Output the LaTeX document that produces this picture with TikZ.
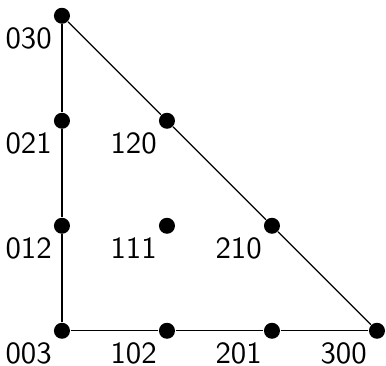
\documentclass[tikz,border=0pt]{standalone}
\usepackage{tikz}
\usetikzlibrary{positioning,calc}

\begin{document}
\begin{tikzpicture}[
  x=1.2cm,y=1.2cm,
  dot/.style={circle,fill=black,inner sep=0pt,minimum size=0.183cm},
  lab/.style={anchor=north east,inner sep=0pt,font=\sffamily},
  edge/.style={draw=black,line width=0.4pt}
]
\useasboundingbox (-0.59,-0.333) rectangle (3.086,3.15);
% control points
\node[dot] (p003) at (0,0) {};
\node[dot] (p102) at (1,0) {};
\node[dot] (p201) at (2,0) {};
\node[dot] (p300) at (3,0) {};
\node[dot] (p012) at (0,1) {};
\node[dot] (p111) at (1,1) {};
\node[dot] (p210) at (2,1) {};
\node[dot] (p021) at (0,2) {};
\node[dot] (p120) at (1,2) {};
\node[dot] (p030) at (0,3) {};
% labels
\node[lab] (l003) at ([shift={(-0.11cm,-0.13cm)}]p003) {003};
\node[lab] (l102) at ([shift={(-0.11cm,-0.13cm)}]p102) {102};
\node[lab] (l201) at ([shift={(-0.11cm,-0.13cm)}]p201) {201};
\node[lab] (l300) at ([shift={(-0.11cm,-0.13cm)}]p300) {300};
\node[lab] (l012) at ([shift={(-0.11cm,-0.13cm)}]p012) {012};
\node[lab] (l111) at ([shift={(-0.11cm,-0.13cm)}]p111) {111};
\node[lab] (l210) at ([shift={(-0.11cm,-0.13cm)}]p210) {210};
\node[lab] (l021) at ([shift={(-0.11cm,-0.13cm)}]p021) {021};
\node[lab] (l120) at ([shift={(-0.11cm,-0.13cm)}]p120) {120};
\node[lab] (l030) at ([shift={(-0.11cm,-0.13cm)}]p030) {030};
% triangle
\draw[edge] (p003) -- (p102);
\draw[edge] (p102) -- (p201);
\draw[edge] (p201) -- (p300);
\draw[edge] (p300) -- (p210);
\draw[edge] (p210) -- (p120);
\draw[edge] (p120) -- (p030);
\draw[edge] (p030) -- (p021);
\draw[edge] (p021) -- (p012);
\draw[edge] (p012) -- (p003);
\end{tikzpicture}
\end{document}
